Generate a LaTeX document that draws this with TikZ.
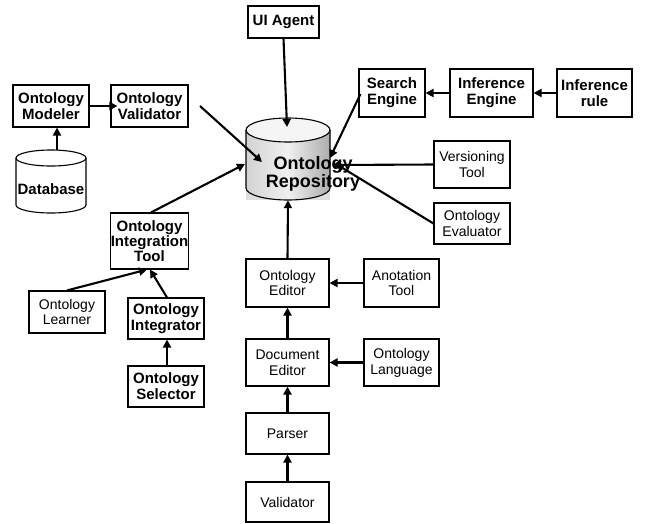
\documentclass[tikz,border=0pt]{standalone}
\usepackage{fontspec}
\setmainfont{Liberation Sans}
\usetikzlibrary{arrows.meta}
\tikzset{
  bx/.style={draw, line width=1.1pt, inner sep=0pt, align=center, fill=white},
  bb/.style={bx, font=\bfseries\fontsize{15}{15.8}\selectfont},
  br/.style={bx, font=\fontsize{14}{15.8}\selectfont},
  arr/.style={line width=2.1pt, -{Triangle[length=8pt,width=8pt]}},
}
\begin{document}
\begin{tikzpicture}[x=1pt,y=-1pt]
\useasboundingbox (0,0) rectangle (645,523);
% Database cylinder
\fill[white] (16,158) -- (16,205) arc[start angle=180,end angle=360,x radius=35pt,y radius=8pt] -- (86,158) -- cycle;
\draw[line width=1.1pt] (16,158) -- (16,205) arc[start angle=180,end angle=360,x radius=35pt,y radius=8pt] -- (86,158);
\draw[line width=1.1pt, fill=white] (51,158) ellipse [x radius=35pt, y radius=8pt];
\node[inner sep=0pt, minimum width=70pt, minimum height=63pt] (db) at (51,181.5) {};
\node[font=\bfseries\fontsize{15}{15.5}\selectfont, inner sep=0pt] (dbt) at (51,189) {Database};
% Repository cylinder
\fill[gray!25] (246,186) rectangle (330,200);
\shade[left color=gray!35, right color=gray!65, middle color=gray!12] (246,130) -- (246,188) arc[start angle=180,end angle=360,x radius=42pt,y radius=12pt] -- (330,130) -- cycle;
\draw[line width=1.1pt] (246,130) -- (246,188) arc[start angle=180,end angle=360,x radius=42pt,y radius=12pt] -- (330,130);
\draw[line width=1.1pt, fill=gray!8] (288,130) ellipse [x radius=42pt, y radius=12pt];
\node[inner sep=0pt, minimum width=84pt, minimum height=82pt] (repo) at (288,159) {};
% boxes
\node[bb, minimum width=71pt, minimum height=32pt] (uia) at (283.5,22) {UI Agent};
\node[bb, minimum width=76pt, minimum height=42pt] (mod) at (51,106) {Ontology\\Modeler};
\node[bb, minimum width=77pt, minimum height=42pt] (val) at (149.5,106) {Ontology\\Validator};
\node[bb, minimum width=66pt, minimum height=48pt] (se) at (392,93) {Search\\Engine};
\node[bb, minimum width=83pt, minimum height=48pt] (ie) at (491.5,93) {Inference\\Engine};
\node[bb, minimum width=75pt, minimum height=48pt] (ir) at (594.5,93) {Inference\\rule};
\node[br, minimum width=76pt, minimum height=47pt] (vt) at (472,164.5) {Versioning\\Tool};
\node[br, minimum width=76pt, minimum height=41pt] (ev) at (472,223.5) {Ontology\\Evaluator};
\node[bb, minimum width=77pt, minimum height=56pt, font=\bfseries\fontsize{15}{15}\selectfont] (it) at (149.5,241) {Ontology\\Integration\\Tool};
\node[br, minimum width=76pt, minimum height=42pt] (ol) at (67,312) {Ontology\\Learner};
\node[bb, minimum width=76pt, minimum height=41pt] (ig) at (166,318.5) {Ontology\\Integrator};
\node[bb, minimum width=76pt, minimum height=41pt] (sel) at (166,386.5) {Ontology\\Selector};
\node[br, minimum width=83pt, minimum height=48pt] (oe) at (287.5,283) {Ontology\\Editor};
\node[br, minimum width=75pt, minimum height=48pt] (at) at (401.5,283) {Anotation\\Tool};
\node[br, minimum width=83pt, minimum height=47pt] (de) at (287.5,362.5) {Document\\Editor};
\node[br, minimum width=75pt, minimum height=47pt] (lang) at (401.5,362.5) {Ontology\\Language};
\node[br, minimum width=83pt, minimum height=41pt] (pa) at (287.5,433.5) {Parser};
\node[br, minimum width=83pt, minimum height=40pt] (va) at (287.5,502) {Validator};
% free ends
\coordinate (vs) at (200,106);
\coordinate (rUI) at (287,127);
\coordinate (rVal) at (262,162);
\coordinate (rIt) at (245,164);
\coordinate (rSe) at (330,158);
\coordinate (rVt) at (332,165);
\coordinate (rEv) at (336,164);
% connectors
\draw[arr] (uia.south) -- (rUI);
\draw[arr] ([xshift=6pt]db.north) -- ([xshift=6pt]mod.south);
\draw[arr] (mod.east) -- ([xshift=7pt]val.west);
\draw[arr] (vs) -- (rVal);
\draw[arr] ([xshift=1.5pt]it.north) -- (rIt);
\draw[arr] ([xshift=2pt,yshift=-1pt]se.west) -- (rSe);
\draw[arr] (vt.west) -- (rVt);
\draw[arr] (ev.west) -- (rEv);
\draw[arr] (ie.west) -- (se.east);
\draw[arr] (ir.west) -- (ie.east);
\draw[arr] (oe.north) -- (repo.south);
\draw[arr] (at.west) -- (oe.east);
\draw[arr] (de.north) -- (oe.south);
\draw[arr] (lang.west) -- (de.east);
\draw[arr] (pa.north) -- (de.south);
\draw[arr] (va.north) -- (pa.south);
\draw[arr] (ol.north) -- ([xshift=-2.5pt]it.south);
\draw[arr] ([xshift=1pt]ig.north) -- ([xshift=0.5pt]it.south);
\draw[arr] ([xshift=1pt]sel.north) -- ([xshift=1pt]ig.south);
% repository label
\node[font=\bfseries\fontsize{18}{18}\selectfont, inner sep=0pt, align=center] (repot) at (313,174) {Ontology\\Repository};
\end{tikzpicture}
\end{document}
